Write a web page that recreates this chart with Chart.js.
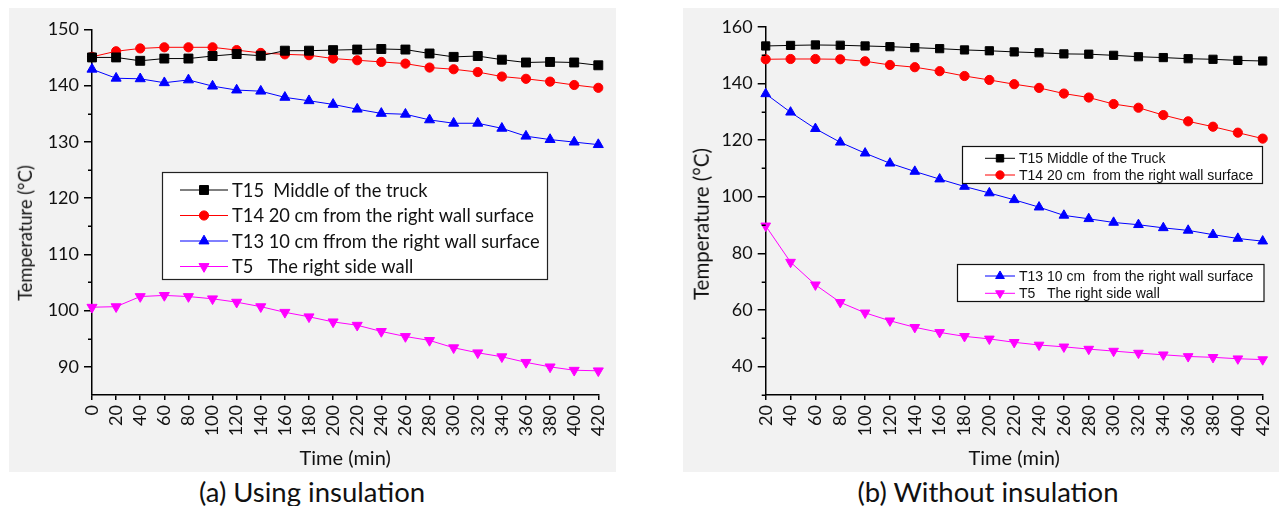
<!DOCTYPE html>
<html>
<head>
<meta charset="utf-8">
<script src="https://cdn.jsdelivr.net/npm/chart.js@4.4.1/dist/chart.umd.min.js"></script>
<style>
  html, body { margin:0; padding:0; background:#fff; }
  body { width:1279px; height:506px; position:relative; overflow:hidden; font-family: Lato, "Noto Sans", sans-serif; color:#111; }
  .panel { position:absolute; background:#f2f2f2; }
  .panel canvas { position:absolute; left:0; top:0; }
  .ytitle { position:absolute; white-space:pre; transform:translate(-50%,-50%) rotate(-90deg); line-height:1; }
  .caption { position:absolute; white-space:pre; transform:translate(-50%,-50%); line-height:1; font-size:27.5px; }
</style>
</head>
<body>
<div class="panel" id="pa" style="left:9px;top:8px;width:607px;height:464px;"><canvas id="ca" width="607" height="464"></canvas></div>
<div class="panel" id="pb" style="left:683px;top:8px;width:596px;height:464px;"><canvas id="cb" width="596" height="464"></canvas></div>
<div class="ytitle" style="left:25px;top:233px;font-size:18.3px;">Temperature (°C)</div>
<div class="ytitle" style="left:701px;top:224px;font-size:20.5px;">Temperature (°C)</div>
<div class="caption" style="left:312px;top:492px;">(a) Using insulation</div>
<div class="caption" style="left:988px;top:492px;">(b) Without insulation</div>
<script>
// ---------- data ----------
const timesA = [0,20,40,60,80,100,120,140,160,180,200,220,240,260,280,300,320,340,360,380,400,420];
const t15A = [145.0,145.0,144.4,144.8,144.8,145.25,145.6,145.3,146.2,146.2,146.3,146.4,146.5,146.4,145.7,145.1,145.25,144.6,144.1,144.2,144.1,143.6];
const t14A = [145.1,146.1,146.6,146.8,146.8,146.8,146.3,145.8,145.55,145.4,144.8,144.5,144.2,143.9,143.2,142.9,142.4,141.6,141.2,140.7,140.1,139.6];
const t13A = [142.9,141.3,141.2,140.5,141.0,139.9,139.2,139.0,137.9,137.3,136.65,135.8,135.05,134.9,133.9,133.3,133.3,132.4,131.0,130.4,129.95,129.5];
const t5A  = [100.6,100.7,102.5,102.7,102.5,102.1,101.5,100.7,99.7,98.9,98.0,97.4,96.3,95.4,94.7,93.4,92.5,91.8,90.8,90.0,89.4,89.3];
const labelsA = ["T15  Middle of the truck","T14 20 cm from the right wall surface","T13 10 cm ffrom the right wall surface","T5   The right side wall"];
const yTicksA = [90,100,110,120,130,140,150];
const yMinorA = [95,105,115,125,135,145];

const timesB = [20,40,60,80,100,120,140,160,180,200,220,240,260,280,300,320,340,360,380,400,420];
const t15B = [153.2,153.4,153.55,153.45,153.2,152.95,152.6,152.25,151.8,151.5,151.1,150.8,150.4,150.3,149.9,149.4,149.1,148.7,148.5,148.1,147.9];
const t14B = [148.5,148.6,148.6,148.5,147.8,146.5,145.7,144.3,142.6,141.2,139.7,138.4,136.4,135.0,132.7,131.4,128.8,126.6,124.7,122.6,120.5];
const t13B = [136.3,129.8,124.0,119.2,115.35,111.8,108.9,106.2,103.6,101.3,98.9,96.3,93.4,92.2,90.9,90.1,89.0,88.1,86.6,85.25,84.3];
const t5B  = [89.7,76.9,68.9,62.7,59.0,56.2,53.9,52.1,50.7,49.8,48.6,47.65,47.0,46.2,45.5,44.8,44.2,43.6,43.3,42.8,42.5];
const labelsB = ["T15 Middle of the Truck","T14 20 cm  from the right wall surface","T13 10 cm  from the right wall surface","T5   The right side wall"];
const yTicksB = [40,60,80,100,120,140,160];
const yMinorB = [30,50,70,90,110,130,150];

// ---------- styles ----------
const styles = [
  {color:'#000000', pointStyle:'rect', rotation:0, rA:6.3, rB:5.8},
  {color:'#ff0000', pointStyle:'circle', rotation:0, rA:4.6, rB:4.6},
  {color:'#0000ff', pointStyle:'triangle', rotation:0, rA:5.8, rB:5.6},
  {color:'#ff00ff', pointStyle:'triangle', rotation:180, rA:5.8, rB:5.6}
];
const TXT = '#111111';
Chart.defaults.font.family = 'Lato';
Chart.defaults.color = TXT;

function drawMarker(ctx, style, r, rot, x, y, color){
  ctx.save();
  ctx.fillStyle = color; ctx.strokeStyle = color; ctx.lineWidth = 1;
  ctx.beginPath();
  if (style === 'rect') { const s = Math.SQRT1_2 * r; ctx.rect(x - s, y - s, 2*s, 2*s); }
  else if (style === 'circle') { ctx.arc(x, y, r, 0, Math.PI*2); }
  else { let a = rot * Math.PI / 180; for (let k = 0; k < 3; k++) { const px = x + Math.sin(a)*r, py = y - Math.cos(a)*r; if (k) ctx.lineTo(px, py); else ctx.moveTo(px, py); a += 2*Math.PI/3; } ctx.closePath(); }
  ctx.fill(); ctx.stroke();
  ctx.restore();
}

const boxLegendPlugin = {
  id: 'boxLegend',
  afterDraw(chart, args, opts) {
    const ctx = chart.ctx;
    (opts.boxes || []).forEach(b => {
      ctx.save();
      ctx.fillStyle = '#ffffff';
      ctx.fillRect(b.x, b.y, b.w, b.h);
      ctx.strokeStyle = b.border; ctx.lineWidth = b.borderWidth;
      ctx.strokeRect(b.x, b.y, b.w, b.h);
      b.rows.forEach(row => {
        const ds = chart.data.datasets[row.ds];
        ctx.strokeStyle = ds.borderColor; ctx.lineWidth = 1;
        ctx.beginPath(); ctx.moveTo(b.lineX1, row.y); ctx.lineTo(b.lineX2, row.y); ctx.stroke();
        drawMarker(ctx, ds.pointStyle, b.markerScale * ds.pointRadius, ds.pointRotation || 0, (b.lineX1 + b.lineX2)/2, row.y, ds.backgroundColor);
        ctx.fillStyle = TXT; ctx.font = b.font; ctx.textBaseline = 'middle'; ctx.textAlign = 'left';
        ctx.fillText(ds.label, b.textX, row.y + 1);
      });
      ctx.restore();
    });
  }
};

const minorTickPlugin = {
  id: 'minorTicks',
  afterDraw(chart, args, opts) {
    const ctx = chart.ctx, ys = chart.scales.y;
    ctx.save();
    ctx.strokeStyle = '#000'; ctx.lineWidth = 1.5;
    (opts.values || []).forEach(v => {
      const py = Math.round(ys.getPixelForValue(v)) + 0.25;
      ctx.beginPath(); ctx.moveTo(chart.chartArea.left - opts.len, py); ctx.lineTo(chart.chartArea.left, py); ctx.stroke();
    });
    ctx.restore();
  }
};

function makeDatasets(series, labels, key) {
  return series.map((vals, i) => ({
    label: labels[i],
    data: vals,
    borderColor: styles[i].color,
    backgroundColor: styles[i].color,
    borderWidth: 1,
    pointStyle: styles[i].pointStyle,
    pointRotation: styles[i].rotation,
    pointRadius: styles[i][key],
    pointBorderWidth: 1,
    tension: 0,
    fill: false
  }));
}

function makeChart(id, times, series, labels, key, yMin, yMax, yTicks, yMinor, geo, legendBoxes, tickFont, xTitleFont) {
  return new Chart(document.getElementById(id), {
    type: 'line',
    data: { labels: times.map(String), datasets: makeDatasets(series, labels, key) },
    options: {
      responsive: false,
      animation: false,
      events: [],
      layout: { padding: { left: 0, right: geo.padRight, top: geo.padTop, bottom: 0 } },
      plugins: {
        legend: { display: false },
        tooltip: { enabled: false },
        boxLegend: { boxes: legendBoxes },
        minorTicks: { values: yMinor, len: 4 }
      },
      scales: {
        x: {
          type: 'category',
          offset: false,
          border: { display: true, color: '#000', width: 1.5 },
          grid: { display: true, drawOnChartArea: false, drawTicks: true, tickLength: 5, color: '#000', lineWidth: 1.5 },
          ticks: { autoSkip: false, minRotation: 90, maxRotation: 90, padding: 5, color: TXT, font: { size: tickFont } },
          title: { display: true, text: 'Time (min)', color: TXT, font: { size: xTitleFont }, padding: { top: 0, bottom: 1 } },
          afterFit(s) { s.height = geo.xHeight; s.paddingLeft = 0; s.paddingRight = 0; }
        },
        y: {
          type: 'linear',
          min: yMin, max: yMax,
          border: { display: true, color: '#000', width: 1.5 },
          grid: { display: true, drawOnChartArea: false, drawTicks: true, tickLength: 8, color: '#000', lineWidth: 1.5 },
          ticks: { padding: 5, color: TXT, font: { size: tickFont } },
          afterBuildTicks(s) { s.ticks = yTicks.map(v => ({ value: v })); },
          afterFit(s) { s.width = geo.yWidth; s.paddingTop = 0; s.paddingBottom = 0; }
        }
      }
    },
    plugins: [boxLegendPlugin, minorTickPlugin]
  });
}

makeChart('ca', timesA, [t15A, t14A, t13A, t5A], labelsA, 'rA', 85, 150, yTicksA, yMinorA,
  { padRight: 17.7, padTop: 21.3, xHeight: 77, yWidth: 83 },
  [{ x: 153.5, y: 164.5, w: 385, h: 107, border: '#222', borderWidth: 1.2, lineX1: 171, lineX2: 219, textX: 223, font: '18.3px Lato', markerScale: 1,
     rows: [{ ds: 0, y: 182 }, { ds: 1, y: 207.5 }, { ds: 2, y: 233 }, { ds: 3, y: 258.5 }] }],
  18, 20);

makeChart('cb', timesB, [t15B, t14B, t13B, t5B], labelsB, 'rB', 30, 160, yTicksB, yMinorB,
  { padRight: 16.3, padTop: 18.7, xHeight: 77, yWidth: 82.7 },
  [{ x: 279.5, y: 138.5, w: 300, h: 37, border: '#111', borderWidth: 1.2, lineX1: 302, lineX2: 332, textX: 336, font: '14px "Liberation Sans", Arial, sans-serif', markerScale: 0.9,
     rows: [{ ds: 0, y: 150.3 }, { ds: 1, y: 167 }] },
   { x: 274.5, y: 256.5, w: 306.5, h: 37, border: '#111', borderWidth: 1.2, lineX1: 302, lineX2: 332, textX: 336, font: '14px "Liberation Sans", Arial, sans-serif', markerScale: 0.9,
     rows: [{ ds: 2, y: 268 }, { ds: 3, y: 285.3 }] }],
  18, 20);
</script>
</body>
</html>
